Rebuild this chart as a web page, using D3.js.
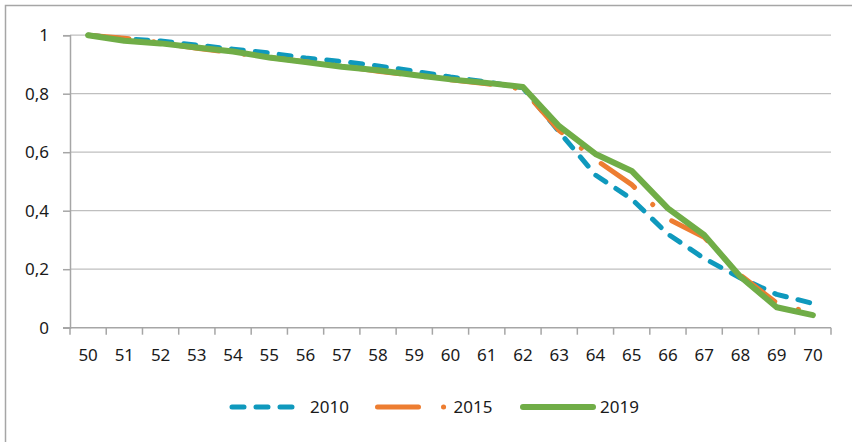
<!DOCTYPE html>
<html>
<head>
<meta charset="utf-8">
<script src="https://cdn.jsdelivr.net/npm/d3@7"></script>
<style>
  html, body { margin: 0; padding: 0; background: #fff; }
  svg { display: block; font-family: "Noto Sans", "Open Sans", sans-serif; }
</style>
</head>
<body>
<svg id="chart" width="852" height="442"></svg>
<script>
// Ages on the x axis
const ages = ["50","51","52","53","54","55","56","57","58","59","60","61","62","63","64","65","66","67","68","69","70"];

// Share still in the population at each age, per year
const values2010 = [1, 0.988, 0.98, 0.966, 0.952, 0.939, 0.922, 0.91, 0.895, 0.877, 0.857, 0.84, 0.82, 0.67, 0.522, 0.44, 0.32, 0.237, 0.17, 0.114, 0.083];
const values2015 = [1, 0.99, 0.975, 0.955, 0.94, 0.924, 0.909, 0.894, 0.877, 0.862, 0.848, 0.834, 0.815, 0.674, 0.575, 0.489, 0.372, 0.309, 0.18, 0.085, 0.048];
const values2019 = [1, 0.981, 0.972, 0.958, 0.944, 0.924, 0.908, 0.892, 0.88, 0.864, 0.849, 0.837, 0.823, 0.689, 0.594, 0.536, 0.408, 0.317, 0.174, 0.07, 0.043];

const yTicks = [0, 0.2, 0.4, 0.6, 0.8, 1];
const seriesNames = ["2010", "2015", "2019"];

const series = [
  { name: seriesNames[0], values: values2010, color: "#0f99bd", width: 5, dash: "12 12" },
  { name: seriesNames[1], values: values2015, color: "#ed7d31", width: 5, dash: "41 25 0.1 25" },
  { name: seriesNames[2], values: values2019, color: "#70ad47", width: 6, dash: null }
];

const svg = d3.select("#chart");
const plot = { left: 70, right: 831, top: 35.2, bottom: 327.7 };

// Outer frame of the chart
svg.append("rect")
  .attr("x", 5.5).attr("y", 5.5)
  .attr("width", 860).attr("height", 460)
  .attr("fill", "none").attr("stroke", "#a6a6a6").attr("stroke-width", 1.5);

const x = d3.scaleBand().domain(ages).range([plot.left, plot.right]).padding(0);
const y = d3.scaleLinear().domain([0, 1]).range([plot.bottom, plot.top]);
const cx = a => x(a) + x.bandwidth() / 2;

const fmt = v => String(v).replace(".", ",");

// Horizontal gridlines
svg.append("g")
  .selectAll("line")
  .data(yTicks.filter(t => t > 0))
  .join("line")
  .attr("x1", plot.left).attr("x2", plot.right)
  .attr("y1", d => y(d)).attr("y2", d => y(d))
  .attr("stroke", "#bfbfbf").attr("stroke-width", 1.2);

// Y axis
const yAxis = svg.append("g")
  .attr("transform", `translate(${plot.left},0)`)
  .call(d3.axisLeft(y).tickValues(yTicks).tickFormat(fmt).tickSize(7).tickPadding(14));
yAxis.select(".domain").attr("stroke", "#a6a6a6").attr("stroke-width", 1.5);
yAxis.selectAll(".tick line").attr("stroke", "#a6a6a6").attr("stroke-width", 1.5);
yAxis.selectAll(".tick text").attr("font-size", 17).attr("fill", "#1a1a1a")
  .attr("font-family", "'Noto Sans', sans-serif");

// X axis: labels centred in each band, tick marks on band edges
const xAxis = svg.append("g")
  .attr("transform", `translate(0,${plot.bottom})`)
  .call(d3.axisBottom(x).tickSize(0).tickPadding(21));
xAxis.select(".domain").remove();
xAxis.selectAll(".tick text").attr("font-size", 17).attr("fill", "#1a1a1a")
  .attr("font-family", "'Noto Sans', sans-serif");

const edges = ages.map(a => x(a)).concat([x(ages[ages.length - 1]) + x.bandwidth()]);
svg.append("line")
  .attr("x1", plot.left - 7).attr("x2", plot.right)
  .attr("y1", plot.bottom).attr("y2", plot.bottom)
  .attr("stroke", "#a6a6a6").attr("stroke-width", 1.5);
svg.append("g")
  .selectAll("line")
  .data(edges)
  .join("line")
  .attr("x1", d => d).attr("x2", d => d)
  .attr("y1", plot.bottom).attr("y2", plot.bottom + 7)
  .attr("stroke", "#a6a6a6").attr("stroke-width", 1.5);

// Series lines
const line = d3.line().x((d, i) => cx(ages[i])).y(d => y(d));
svg.append("g")
  .selectAll("path")
  .data(series)
  .join("path")
  .attr("d", d => line(d.values))
  .attr("fill", "none")
  .attr("stroke", d => d.color)
  .attr("stroke-width", d => d.width)
  .attr("stroke-dasharray", d => d.dash)
  .attr("stroke-linecap", "round")
  .attr("stroke-linejoin", "round");

// Legend
const legendY = 407;
const legend = svg.append("g")
  .selectAll("g")
  .data(series)
  .join("g")
  .attr("transform", (d, i) => `translate(${232 + i * 145.5},${legendY})`);
legend.append("line")
  .attr("x1", 0).attr("x2", d => d.dash ? 72 : 70)
  .attr("y1", 0).attr("y2", 0)
  .attr("stroke", d => d.color)
  .attr("stroke-width", d => d.width)
  .attr("stroke-dasharray", d => d.dash)
  .attr("stroke-linecap", "round");
legend.append("text")
  .attr("x", (d, i) => i === 0 ? 78 : (i === 1 ? 76 : 77))
  .attr("y", 6)
  .attr("font-size", 17)
  .attr("fill", "#1a1a1a")
  .text(d => d.name);
</script>
</body>
</html>
